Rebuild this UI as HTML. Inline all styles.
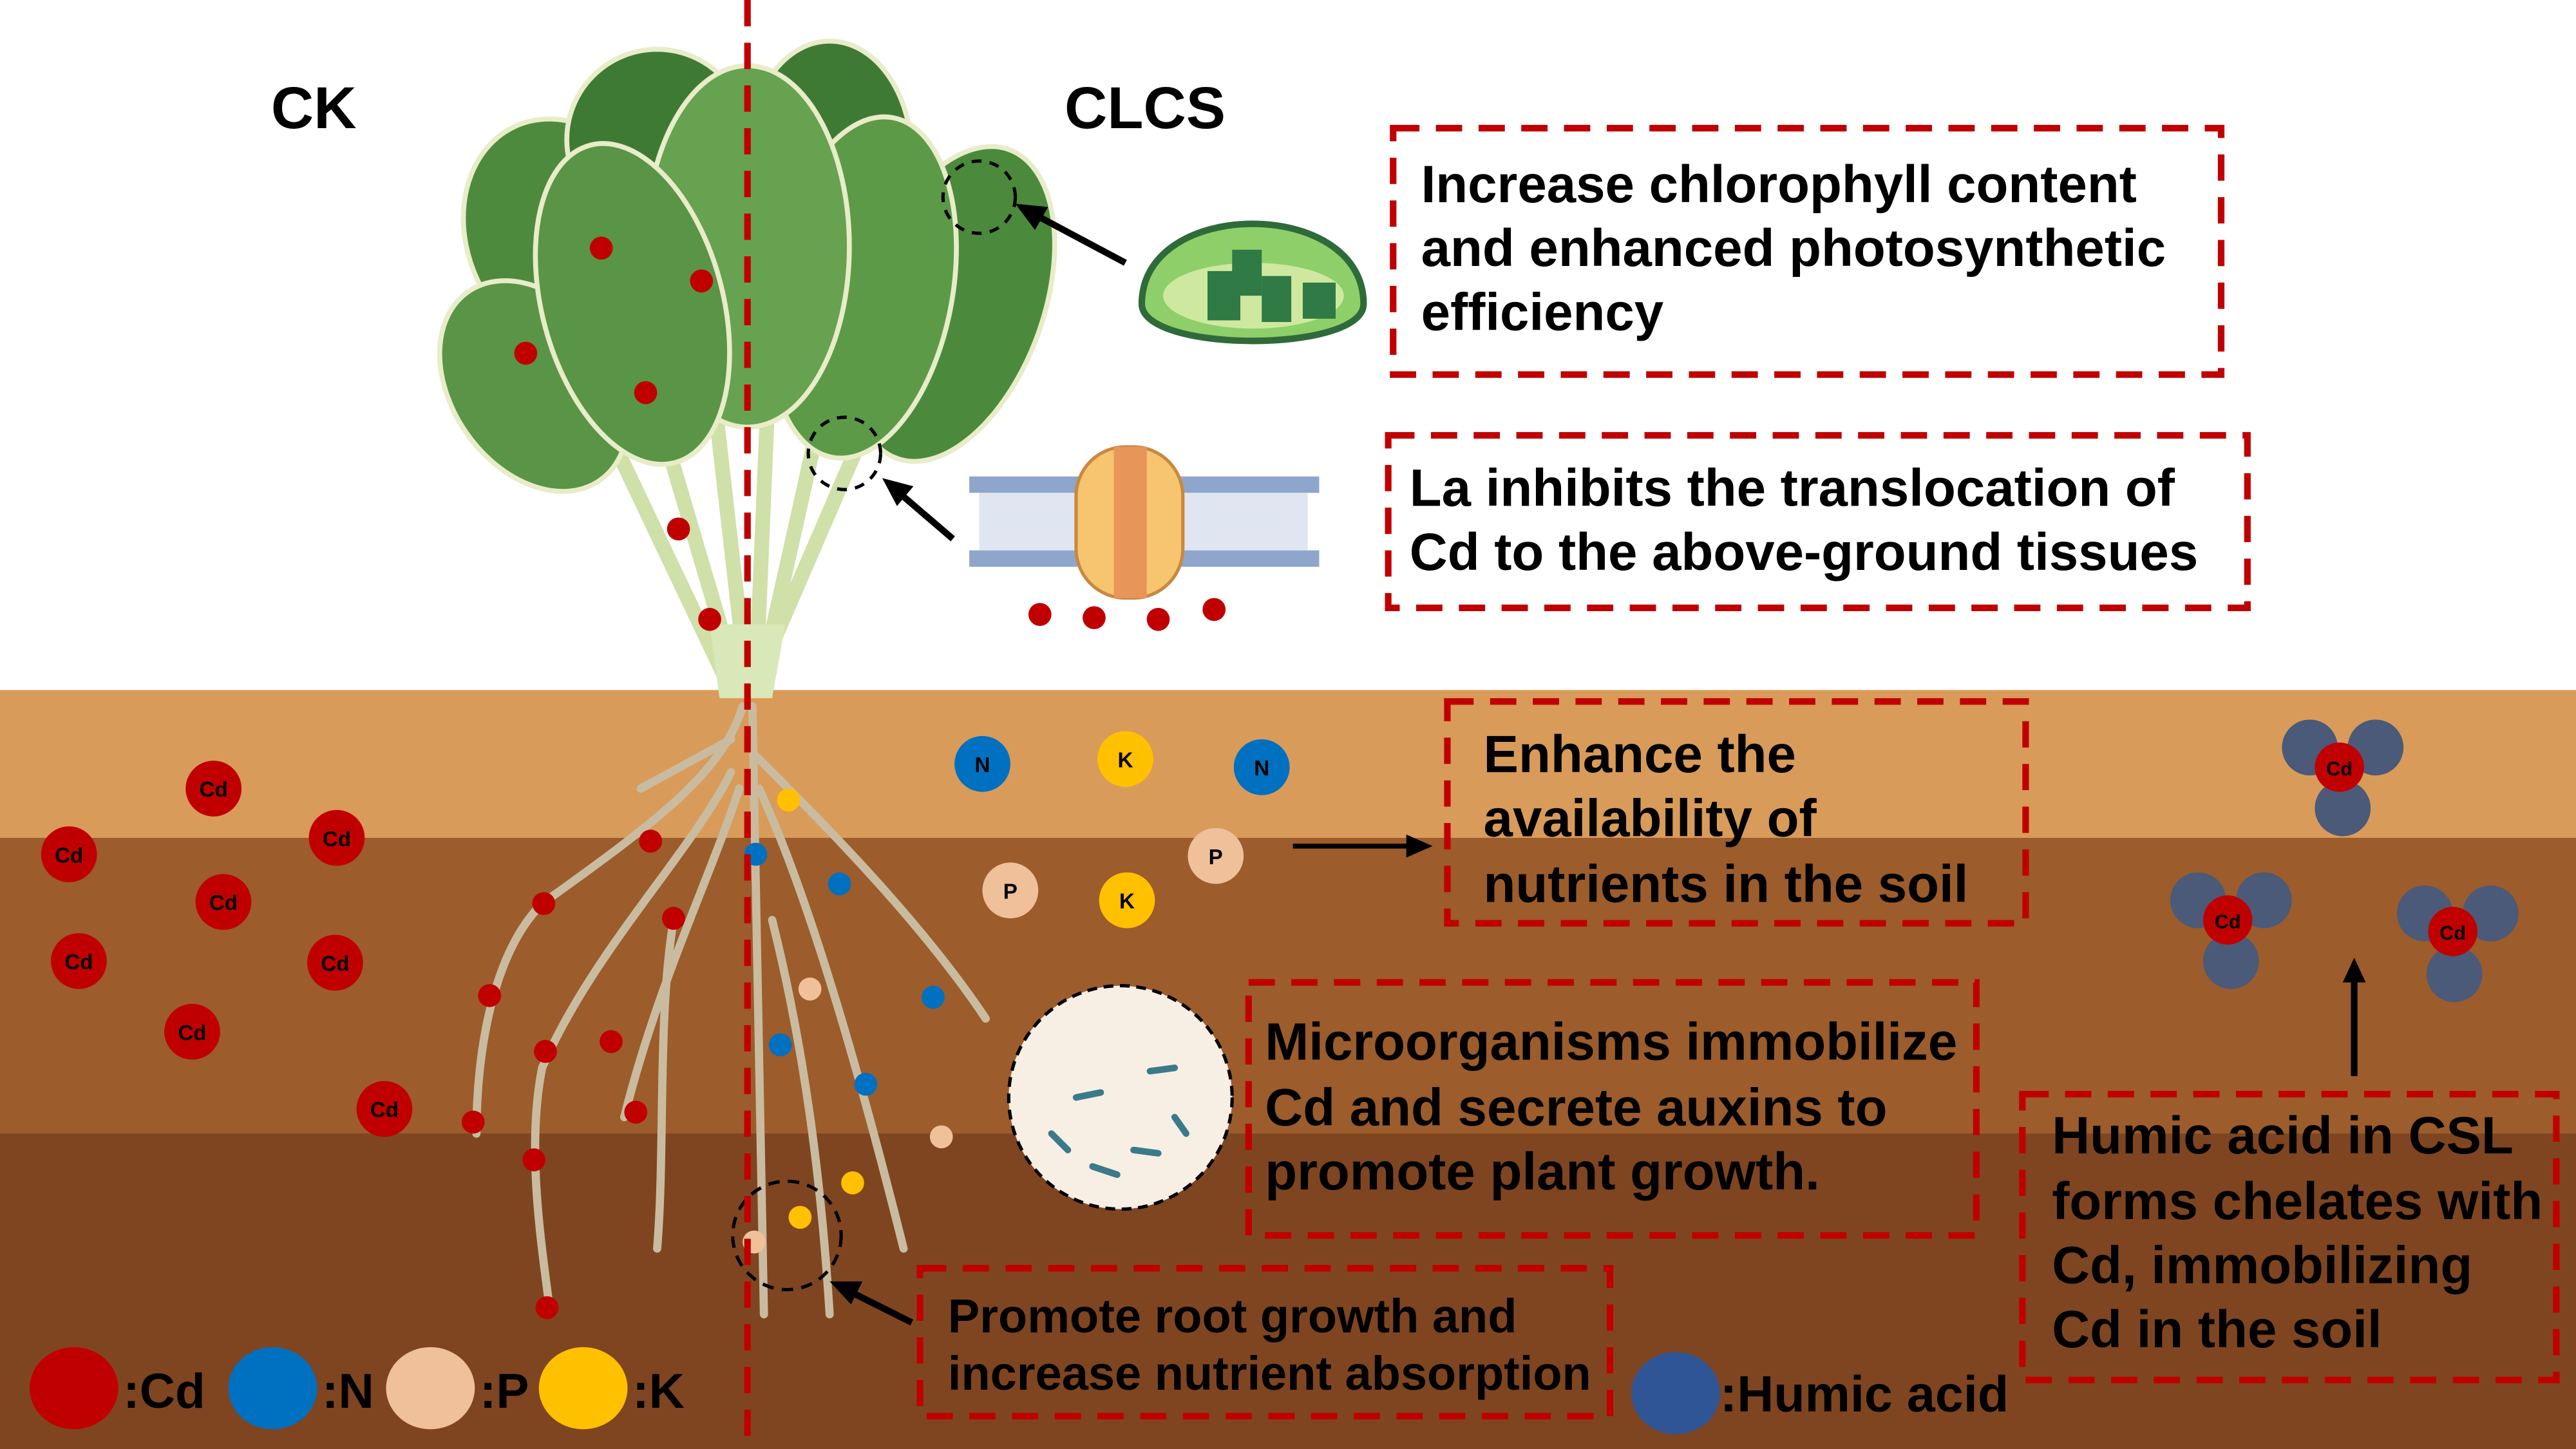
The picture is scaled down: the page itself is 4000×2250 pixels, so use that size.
<!DOCTYPE html>
<html><head><meta charset="utf-8"><style>
html,body{margin:0;padding:0;background:#fff;}
svg{display:block;}
text{font-family:"Liberation Sans",Arial,sans-serif;font-weight:bold;}
</style></head><body>
<svg width="4000" height="2250" viewBox="0 0 1568 882" preserveAspectRatio="none" xmlns="http://www.w3.org/2000/svg">
<rect width="1568" height="882" fill="#fff"/>
<rect x="0" y="420" width="1568" height="92" fill="#d99b5a"/>
<rect x="0" y="510" width="1568" height="182" fill="#9c5c2c"/>
<rect x="0" y="690" width="1568" height="192" fill="#7f4521"/>
<g stroke="#cfe0a8" stroke-width="9" fill="none" stroke-linecap="round">
<path d="M450 420 L400 250"/><path d="M455 420 L430 200"/><path d="M460 420 L470 180"/><path d="M462 420 L500 250"/><path d="M458 420 L540 230"/><path d="M445 420 L350 220"/>
</g>
<path d="M432 380 L478 380 L470 425 L438 425 Z" fill="#d8e8b8"/>
<g stroke="#e8ecc8" stroke-width="3">
<ellipse cx="345" cy="145" rx="60" ry="75" fill="#4e8a3e" transform="rotate(-25 345 145)"/>
<ellipse cx="325" cy="235" rx="50" ry="70" fill="#5a9446" transform="rotate(-35 325 235)"/>
<ellipse cx="400" cy="85" rx="55" ry="55" fill="#3f7a35"/>
<ellipse cx="580" cy="185" rx="55" ry="100" fill="#4b8a3c" transform="rotate(20 580 185)"/>
<ellipse cx="505" cy="95" rx="50" ry="70" fill="#3f7a35"/>
<ellipse cx="525" cy="175" rx="55" ry="105" fill="#5c9a48" transform="rotate(10 525 175)"/>
<ellipse cx="455" cy="150" rx="62" ry="110" fill="#66a250"/>
<ellipse cx="385" cy="185" rx="55" ry="100" fill="#5a9446" transform="rotate(-15 385 185)"/>
</g>
<g fill="#c00000">
<circle cx="366" cy="151" r="7"/><circle cx="427" cy="171" r="7"/><circle cx="320" cy="215" r="7"/><circle cx="393" cy="239" r="7"/><circle cx="413" cy="322" r="7"/><circle cx="432" cy="377" r="7"/>
</g>
<g stroke="#c9bba0" stroke-width="5" fill="none" stroke-linecap="round">
<path d="M452 430 C440 470 400 500 330 550 C300 580 290 640 290 690"/>
<path d="M445 470 C420 520 360 580 330 650 C320 700 330 760 335 800"/>
<path d="M450 480 C430 540 400 600 380 680"/>
<path d="M458 430 L465 800"/>
<path d="M460 460 C500 500 560 560 600 620"/>
<path d="M462 480 C490 540 520 640 550 760"/>
<path d="M470 560 C490 640 500 720 505 800"/>
<path d="M445 450 L390 480"/>
<path d="M410 560 C400 620 405 700 400 760"/>
</g>
<g fill="#c00000"><circle cx="396" cy="512" r="7"/><circle cx="331" cy="550" r="7"/><circle cx="410" cy="559" r="7"/><circle cx="298" cy="606" r="7"/><circle cx="332" cy="640" r="7"/><circle cx="372" cy="634" r="7"/><circle cx="288" cy="683" r="7"/><circle cx="387" cy="677" r="7"/><circle cx="325" cy="706" r="7"/><circle cx="333" cy="796" r="7"/></g>
<g fill="#0070c0"><circle cx="460" cy="520" r="7"/><circle cx="511" cy="538" r="7"/><circle cx="475" cy="636" r="7"/><circle cx="527" cy="660" r="7"/><circle cx="568" cy="607" r="7"/></g>
<g fill="#f0c09a"><circle cx="493" cy="602" r="7"/><circle cx="573" cy="692" r="7"/><circle cx="459" cy="756" r="7"/></g>
<g fill="#ffc000"><circle cx="480" cy="487" r="7"/><circle cx="519" cy="720" r="7"/><circle cx="487" cy="741" r="7"/></g>
<circle cx="479" cy="752" r="33" fill="none" stroke="#000" stroke-width="2" stroke-dasharray="7 5"/>
<line x1="455" y1="0" x2="455" y2="882" stroke="#c00000" stroke-width="4" stroke-dasharray="16 10"/>
<g fill="#c00000"><circle cx="130" cy="480" r="17"/><circle cx="42" cy="520" r="17"/><circle cx="205" cy="510" r="17"/><circle cx="136" cy="549" r="17"/><circle cx="48" cy="585" r="17"/><circle cx="204" cy="586" r="17"/><circle cx="117" cy="628" r="17"/><circle cx="234" cy="675" r="17"/></g>
<g font-size="13" text-anchor="middle" fill="#000"><text x="130" y="485">Cd</text><text x="42" y="525">Cd</text><text x="205" y="515">Cd</text><text x="136" y="554">Cd</text><text x="48" y="590">Cd</text><text x="204" y="591">Cd</text><text x="117" y="633">Cd</text><text x="234" y="680">Cd</text></g>
<g font-size="13" text-anchor="middle">
<circle cx="598" cy="465" r="17" fill="#0070c0"/><text x="598" y="470">N</text>
<circle cx="685" cy="462" r="17" fill="#ffc000"/><text x="685" y="467">K</text>
<circle cx="768" cy="467" r="17" fill="#0070c0"/><text x="768" y="472">N</text>
<circle cx="615" cy="542" r="17" fill="#f0c09a"/><text x="615" y="547">P</text>
<circle cx="686" cy="548" r="17" fill="#ffc000"/><text x="686" y="553">K</text>
<circle cx="740" cy="521" r="17" fill="#f0c09a"/><text x="740" y="526">P</text>
</g>
<text x="191" y="78" font-size="36" text-anchor="middle">CK</text>
<text x="697" y="78" font-size="36" text-anchor="middle">CLCS</text>
<path d="M695 185 C695 120 830 120 830 185 C830 215 695 215 695 185 Z" fill="#8fcf6a" stroke="#2f6b3a" stroke-width="4"/>
<ellipse cx="763" cy="180" rx="55" ry="20" fill="#cfe8a0"/>
<g fill="#2f7a45"><rect x="735" y="165" width="20" height="30"/><rect x="750" y="152" width="18" height="28"/><rect x="768" y="168" width="18" height="28"/><rect x="793" y="172" width="20" height="22"/></g>
<circle cx="596" cy="120" r="22" fill="none" stroke="#000" stroke-width="2" stroke-dasharray="6 5"/>
<line x1="685" y1="160" x2="625" y2="128" stroke="#000" stroke-width="4"/><path d="M618 124 L638 126 L630 140 Z" fill="#000"/>
<g fill="#8fa6cc"><rect x="590" y="290" width="213" height="10"/><rect x="590" y="335" width="213" height="10"/></g>
<rect x="596" y="300" width="200" height="35" fill="#dfe6f2"/>
<rect x="655" y="272" width="65" height="92" rx="30" fill="#f7c46f" stroke="#c98840" stroke-width="2"/>
<rect x="678" y="272" width="20" height="92" fill="#e8955a"/>
<g fill="#c00000"><circle cx="633" cy="374" r="7"/><circle cx="666" cy="376" r="7"/><circle cx="705" cy="377" r="7"/><circle cx="739" cy="371" r="7"/></g>
<circle cx="514" cy="276" r="22" fill="none" stroke="#000" stroke-width="2" stroke-dasharray="6 5"/>
<line x1="580" y1="328" x2="545" y2="298" stroke="#000" stroke-width="4"/><path d="M537 291 L556 296 L546 308 Z" fill="#000"/>
<g fill="none" stroke="#c00000" stroke-width="4" stroke-dasharray="16 10">
<rect x="848" y="78" width="504" height="150"/>
<rect x="845" y="265" width="523" height="105"/>
<rect x="881" y="427" width="352" height="135"/>
<rect x="760" y="598" width="443" height="154"/>
<rect x="1231" y="666" width="325" height="174"/>
<rect x="560" y="772" width="420" height="90"/>
</g>
<g font-size="32" fill="#000">
<text x="865" y="123">Increase chlorophyll content</text>
<text x="865" y="162">and enhanced photosynthetic</text>
<text x="865" y="201">efficiency</text>
<text x="858" y="308">La inhibits the translocation of</text>
<text x="858" y="347">Cd to the above-ground tissues</text>
<text x="903" y="470">Enhance the</text>
<text x="903" y="509">availability of</text>
<text x="903" y="549">nutrients in the soil</text>
<text x="770" y="645">Microorganisms immobilize</text>
<text x="770" y="685">Cd and secrete auxins to</text>
<text x="770" y="724">promote plant growth.</text>
<text x="1249" y="702">Humic acid in CSL</text>
<text x="1249" y="742">forms chelates with</text>
<text x="1249" y="781">Cd, immobilizing</text>
<text x="1249" y="820">Cd in the soil</text>
</g>
<g font-size="29"><text x="577" y="811">Promote root growth and</text><text x="577" y="846">increase nutrient absorption</text></g>
<line x1="787" y1="515" x2="860" y2="515" stroke="#000" stroke-width="3"/><path d="M872 515 L856 508 L856 522 Z" fill="#000"/>
<line x1="555" y1="805" x2="515" y2="785" stroke="#000" stroke-width="4"/><path d="M505 780 L525 780 L518 794 Z" fill="#000"/>
<line x1="1433" y1="655" x2="1433" y2="595" stroke="#000" stroke-width="4"/><path d="M1433 583 L1426 598 L1440 598 Z" fill="#000"/>
<circle cx="682" cy="668" r="68" fill="#f7eee4" stroke="#000" stroke-width="2" stroke-dasharray="6 4"/>
<g stroke="#3a7a8a" stroke-width="4" stroke-linecap="round"><line x1="655" y1="668" x2="670" y2="665"/><line x1="700" y1="652" x2="715" y2="650"/><line x1="640" y1="690" x2="650" y2="700"/><line x1="690" y1="700" x2="705" y2="702"/><line x1="715" y1="680" x2="722" y2="690"/><line x1="665" y1="710" x2="680" y2="715"/></g>
<g fill="#4a5a78">
<circle cx="1406" cy="455" r="17"/><circle cx="1446" cy="455" r="17"/><circle cx="1426" cy="492" r="17"/>
<circle cx="1338" cy="548" r="17"/><circle cx="1378" cy="548" r="17"/><circle cx="1358" cy="585" r="17"/>
<circle cx="1476" cy="556" r="17"/><circle cx="1516" cy="556" r="17"/><circle cx="1494" cy="593" r="17"/>
</g>
<g fill="#c00000"><circle cx="1424" cy="467" r="15"/><circle cx="1356" cy="560" r="15"/><circle cx="1493" cy="567" r="15"/></g>
<g font-size="12" text-anchor="middle"><text x="1424" y="472">Cd</text><text x="1356" y="565">Cd</text><text x="1493" y="572">Cd</text></g>
<ellipse cx="45" cy="845" rx="27" ry="25" fill="#c00000"/><text x="75" y="857" font-size="30">:Cd</text>
<ellipse cx="166" cy="845" rx="27" ry="25" fill="#0070c0"/><text x="196" y="857" font-size="30">:N</text>
<ellipse cx="262" cy="845" rx="27" ry="25" fill="#f0c09a"/><text x="292" y="857" font-size="30">:P</text>
<ellipse cx="355" cy="845" rx="27" ry="25" fill="#ffc000"/><text x="385" y="857" font-size="30">:K</text>
<ellipse cx="1020" cy="848" rx="27" ry="25" fill="#2f5597"/><text x="1047" y="859" font-size="31">:Humic acid</text>
</svg>
</body></html>
